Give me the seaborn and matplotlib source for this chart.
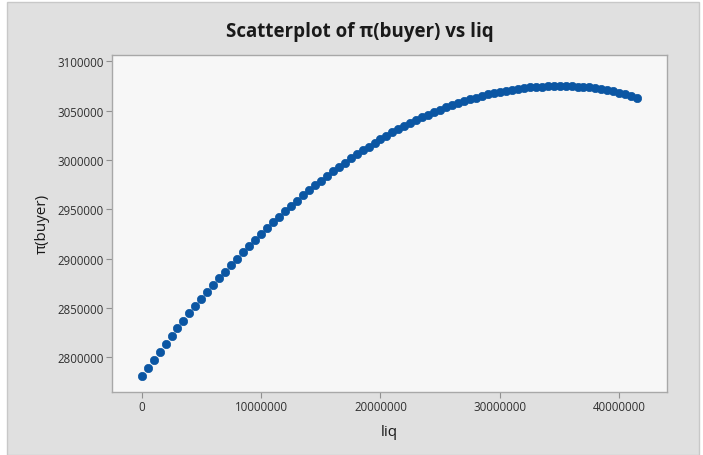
import matplotlib
matplotlib.use("Agg")
import matplotlib.pyplot as plt
import seaborn as sns
import pandas as pd
from matplotlib.patches import Rectangle

# liq values (step 0.5M) and π(buyer)
liq = [i * 500000 for i in range(84)]
pi_buyer = [
    2781000, 2789340, 2797560, 2805660, 2813640, 2821500, 2829240, 2836860,
    2844360, 2851740, 2859000, 2866140, 2873160, 2880060, 2886840, 2893500,
    2900040, 2906460, 2912760, 2918940, 2925000, 2930940, 2936760, 2942460,
    2948040, 2953500, 2958840, 2964060, 2969160, 2974140, 2979000, 2983740,
    2988360, 2992860, 2997240, 3001500, 3005640, 3009660, 3013560, 3017340,
    3021000, 3024540, 3027960, 3031260, 3034440, 3037500, 3040440, 3043260,
    3045960, 3048540, 3051000, 3053340, 3055560, 3057660, 3059640, 3061500,
    3063240, 3064860, 3066360, 3067740, 3069000, 3070140, 3071160, 3072060,
    3072840, 3073500, 3074040, 3074460, 3074760, 3074940, 3075000, 3074940,
    3074760, 3074460, 3074040, 3073500, 3072840, 3072060, 3070500, 3069500,
    3068000, 3066500, 3064500, 3062500,
]
x_ticks = [0, 10000000, 20000000, 30000000, 40000000]
y_ticks = [2800000, 2850000, 2900000, 2950000, 3000000, 3050000, 3100000]

df = pd.DataFrame({"liq": liq, "π(buyer)": pi_buyer})

sns.set_theme(style="white")
plt.rcParams['font.family'] = ['Open Sans', 'DejaVu Sans']

fig = plt.figure(figsize=(7.03, 4.56), dpi=100)
fig.patch.set_facecolor("white")
fig.patches.append(Rectangle((7 / 703, 0.0), 692 / 703, 1 - 3 / 456,
                             transform=fig.transFigure, facecolor="#e0e0e0",
                             edgecolor="#c8c8c8", linewidth=1.0, zorder=-10))

ax = fig.add_axes([111.7 / 703, 1 - 392.7 / 456, (666.7 - 111.7) / 703, (392.7 - 56) / 456])
ax.set_facecolor("#f7f7f7")

sns.scatterplot(data=df, x="liq", y="π(buyer)", ax=ax, color="#0b56a3",
                edgecolor="#0b56a3", s=36, linewidth=0.5, marker="o")

ax.set_xlim(-2510000, 43970000)
ax.set_ylim(2765000, 3106400)
ax.set_xticks(x_ticks)
ax.set_xticklabels([str(v) for v in x_ticks])
ax.set_yticks(y_ticks)
ax.set_yticklabels([str(v) for v in y_ticks])

for s in ax.spines.values():
    s.set_color("#a8a8a8")
    s.set_linewidth(1.0)

ax.tick_params(axis="both", which="major", direction="out", length=4, width=0.8,
               color="#909090", labelsize=8.3, labelcolor="#303030", pad=2,
               bottom=True, left=True)

ax.set_xlabel("liq", fontsize=11, color="#1a1a1a", labelpad=8)
ax.set_ylabel("π(buyer)", fontsize=11, color="#1a1a1a", labelpad=5)

fig.text(360 / 703, 1 - 32 / 456, "Scatterplot of π(buyer) vs liq", ha="center", va="center",
         fontsize=13.5, fontweight="bold", color="#1a1a1a")

fig.savefig("out.png", dpi=100, facecolor=fig.get_facecolor())
